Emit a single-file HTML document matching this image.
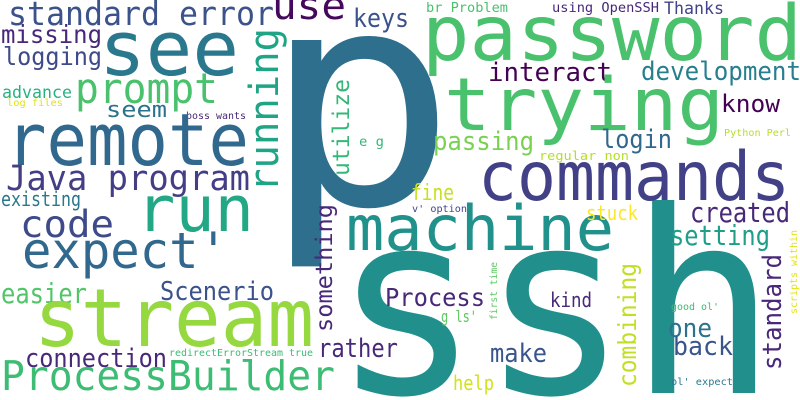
<!DOCTYPE html>
<html><head><meta charset="utf-8"><style>
html,body{margin:0;padding:0;background:#fff;width:800px;height:400px;overflow:hidden;}
svg{display:block;}
text{font-family:"DejaVu Sans Mono","Liberation Mono",monospace;}
</style></head><body>
<svg width="800" height="400" viewBox="0 0 800 400" xmlns="http://www.w3.org/2000/svg" overflow="hidden">
<rect width="800" height="400" fill="#fff"/>
<g>
<text x="262" y="204" font-size="300" fill="#2e6f8e" textLength="195" lengthAdjust="spacingAndGlyphs">p</text>
<text x="332" y="393" font-size="254" fill="#21908d" textLength="445" lengthAdjust="spacingAndGlyphs">ssh</text>
<text x="8" y="25" font-size="33" fill="#3b528b" textLength="266" lengthAdjust="spacingAndGlyphs">standard error</text>
<text x="272" y="19" font-size="38" fill="#46085c" textLength="74" lengthAdjust="spacingAndGlyphs">use</text>
<text x="353" y="27" font-size="26" fill="#3b528b" textLength="56" lengthAdjust="spacingAndGlyphs">keys</text>
<text x="99" y="75" font-size="76" fill="#2a788e" textLength="140" lengthAdjust="spacingAndGlyphs">see</text>
<text x="1" y="43" font-size="25" fill="#482878" textLength="101" lengthAdjust="spacingAndGlyphs">missing</text>
<text x="3" y="65" font-size="25" fill="#3e4a89" textLength="99" lengthAdjust="spacingAndGlyphs">logging</text>
<text x="2" y="98" font-size="17" fill="#2ab07f" textLength="70" lengthAdjust="spacingAndGlyphs">advance</text>
<text x="7" y="106" font-size="10" fill="#dde318" textLength="56" lengthAdjust="spacingAndGlyphs">log files</text>
<text x="75" y="103" font-size="42" fill="#4ac16d" textLength="143" lengthAdjust="spacingAndGlyphs">prompt</text>
<text x="106" y="117" font-size="22" fill="#2c728e" textLength="61" lengthAdjust="spacingAndGlyphs">seem</text>
<text x="186" y="119" font-size="10" fill="#482878" textLength="60" lengthAdjust="spacingAndGlyphs">boss wants</text>
<text x="6" y="165" font-size="72" fill="#31688e" textLength="243" lengthAdjust="spacingAndGlyphs">remote</text>
<text x="359" y="146" font-size="13" fill="#35b779" textLength="25" lengthAdjust="spacingAndGlyphs">e g</text>
<text x="6" y="190" font-size="35" fill="#433e85" textLength="244" lengthAdjust="spacingAndGlyphs">Java program</text>
<text x="1" y="206" font-size="20" fill="#2a788e" textLength="80" lengthAdjust="spacingAndGlyphs">existing</text>
<text x="136" y="231" font-size="63" fill="#22a884" textLength="118" lengthAdjust="spacingAndGlyphs">run</text>
<text x="20" y="237" font-size="37" fill="#3e4a89" textLength="94" lengthAdjust="spacingAndGlyphs">code</text>
<text x="22" y="268" font-size="50" fill="#31688e" textLength="206" lengthAdjust="spacingAndGlyphs">expect'</text>
<text x="1" y="303" font-size="28" fill="#52c569" textLength="86" lengthAdjust="spacingAndGlyphs">easier</text>
<text x="160" y="300" font-size="26" fill="#3b528b" textLength="114" lengthAdjust="spacingAndGlyphs">Scenerio</text>
<text x="34" y="346" font-size="80" fill="#95d840" textLength="280" lengthAdjust="spacingAndGlyphs">stream</text>
<text x="25" y="367" font-size="26" fill="#482878" textLength="142" lengthAdjust="spacingAndGlyphs">connection</text>
<text x="169" y="356" font-size="10" fill="#3dbc74" textLength="144" lengthAdjust="spacingAndGlyphs">redirectErrorStream true</text>
<text x="1" y="390" font-size="41" fill="#3dbc74" textLength="334" lengthAdjust="spacingAndGlyphs">ProcessBuilder</text>
<text x="318" y="357" font-size="26" fill="#482878" textLength="80" lengthAdjust="spacingAndGlyphs">rather</text>
<text x="385" y="306" font-size="25" fill="#482878" textLength="100" lengthAdjust="spacingAndGlyphs">Process</text>
<text x="346" y="250" font-size="62" fill="#21918c" textLength="268" lengthAdjust="spacingAndGlyphs">machine</text>
<text x="490" y="362" font-size="26" fill="#39568c" textLength="57" lengthAdjust="spacingAndGlyphs">make</text>
<text x="453" y="390" font-size="20" fill="#d2e21b" textLength="41" lengthAdjust="spacingAndGlyphs">help</text>
<text x="441" y="322" font-size="16" fill="#5ec962" textLength="36" lengthAdjust="spacingAndGlyphs">g ls'</text>
<text x="412" y="212" font-size="10" fill="#414487" textLength="55" lengthAdjust="spacingAndGlyphs">v' option</text>
<text x="411" y="200" font-size="22" fill="#c8e020" textLength="43" lengthAdjust="spacingAndGlyphs">fine</text>
<text x="586" y="220" font-size="20" fill="#fde725" textLength="52" lengthAdjust="spacingAndGlyphs">stuck</text>
<text x="550" y="307" font-size="20" fill="#482878" textLength="42" lengthAdjust="spacingAndGlyphs">kind</text>
<text x="690" y="222" font-size="28" fill="#482878" textLength="100" lengthAdjust="spacingAndGlyphs">created</text>
<text x="670" y="245" font-size="28" fill="#1f9e89" textLength="100" lengthAdjust="spacingAndGlyphs">setting</text>
<text x="668" y="337" font-size="26" fill="#2c728e" textLength="44" lengthAdjust="spacingAndGlyphs">one</text>
<text x="673" y="355" font-size="26" fill="#39568c" textLength="60" lengthAdjust="spacingAndGlyphs">back</text>
<text x="671" y="310" font-size="10" fill="#3dbc74" textLength="48" lengthAdjust="spacingAndGlyphs">good ol'</text>
<text x="671" y="385" font-size="10" fill="#2a788e" textLength="62" lengthAdjust="spacingAndGlyphs">ol' expect</text>
<text x="426" y="12" font-size="13" fill="#4ac16d" textLength="82" lengthAdjust="spacingAndGlyphs">br Problem</text>
<text x="552" y="12" font-size="13" fill="#482878" textLength="107" lengthAdjust="spacingAndGlyphs">using OpenSSH</text>
<text x="664" y="14" font-size="17" fill="#414487" textLength="60" lengthAdjust="spacingAndGlyphs">Thanks</text>
<text x="422" y="60" font-size="77" fill="#4ac16d" textLength="380" lengthAdjust="spacingAndGlyphs">password</text>
<text x="488" y="81" font-size="26" fill="#440154" textLength="124" lengthAdjust="spacingAndGlyphs">interact</text>
<text x="641" y="80" font-size="26" fill="#277f8e" textLength="160" lengthAdjust="spacingAndGlyphs">development</text>
<text x="444" y="130" font-size="73" fill="#4ac16d" textLength="280" lengthAdjust="spacingAndGlyphs">trying</text>
<text x="721" y="112" font-size="24" fill="#440154" textLength="59" lengthAdjust="spacingAndGlyphs">know</text>
<text x="433" y="150" font-size="26" fill="#7ad151" textLength="101" lengthAdjust="spacingAndGlyphs">passing</text>
<text x="601" y="148" font-size="26" fill="#31688e" textLength="71" lengthAdjust="spacingAndGlyphs">login</text>
<text x="724" y="136" font-size="10" fill="#b5de2b" textLength="67" lengthAdjust="spacingAndGlyphs">Python Perl</text>
<text x="539" y="160" font-size="12" fill="#b5de2b" textLength="90" lengthAdjust="spacingAndGlyphs">regular non</text>
<text x="478" y="200" font-size="68" fill="#424086" textLength="312" lengthAdjust="spacingAndGlyphs">commands</text>
<text transform="translate(278,192) rotate(-90)" font-size="40" fill="#20a486" textLength="164" lengthAdjust="spacingAndGlyphs">running</text>
<text transform="translate(349,176) rotate(-90)" font-size="23" fill="#35b779" textLength="97" lengthAdjust="spacingAndGlyphs">utilize</text>
<text transform="translate(332,332) rotate(-90)" font-size="23" fill="#482878" textLength="128" lengthAdjust="spacingAndGlyphs">something</text>
<text transform="translate(636,387) rotate(-90)" font-size="25" fill="#c2df23" textLength="124" lengthAdjust="spacingAndGlyphs">combining</text>
<text transform="translate(781,370) rotate(-90)" font-size="26" fill="#482878" textLength="116" lengthAdjust="spacingAndGlyphs">standard</text>
<text transform="translate(497,320) rotate(-90)" font-size="10" fill="#5ec962" textLength="58" lengthAdjust="spacingAndGlyphs">first time</text>
<text transform="translate(797,314) rotate(-90)" font-size="10" fill="#e0e31a" textLength="84" lengthAdjust="spacingAndGlyphs">scripts within</text>
</g>
</svg>
</body></html>
